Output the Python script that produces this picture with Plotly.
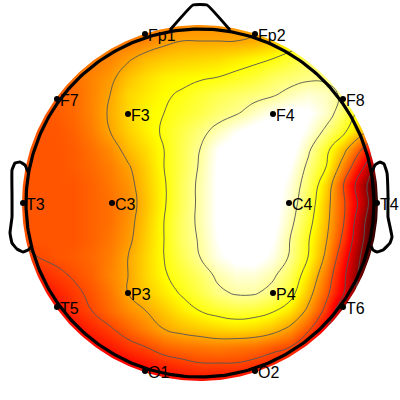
import numpy as np
import plotly.graph_objects as go

# Sample positions of the scalp map (chart units, y grows downward)
grid_x = [20, 38, 56, 74, 92, 110, 128, 146, 164, 182, 200, 218, 236, 254, 272, 290, 308, 326, 344, 362, 380]
grid_y = [23, 41, 59, 77, 95, 113, 131, 149, 167, 185, 203, 221, 239, 257, 275, 293, 311, 329, 347, 365, 383]

row_023 = [50, 50, 50, 51, 52, 53, 54, 55, 56, 57, 58, 58, 59, 60, 64, 68, 72, 76, 80, 80, 80]
row_041 = [50, 50, 51, 52, 53, 54, 55, 57, 60, 62, 62, 62, 62, 63, 66, 70, 74, 78, 80, 80, 80]
row_059 = [50, 50, 51, 53, 55, 57, 61, 65, 67, 68, 69, 70, 72, 74, 76, 80, 84, 86, 86, 86, 86]
row_077 = [50, 50, 52, 54, 57, 60, 66, 70, 73, 74, 75, 76, 78, 80, 84, 86, 88, 88, 86, 84, 82]
row_095 = [50, 50, 51, 53, 57, 62, 69, 72, 75, 77, 80, 83, 85, 87, 89, 93, 96, 94, 88, 84, 80]
row_113 = [50, 50, 51, 53, 57, 63, 69, 74, 76, 79, 82, 86, 89, 94, 99, 102, 101, 95, 84, 72, 62]
row_131 = [50, 50, 50, 52, 56, 62, 68, 73, 77, 82, 87, 93, 99, 103, 105, 105, 98, 88, 78, 66, 52]
row_149 = [50, 50, 50, 51, 54, 58, 65, 70, 76, 83, 90, 100, 104, 106, 106, 104, 92, 79, 65, 48, 30]
row_167 = [50, 50, 50, 51, 53, 56, 61, 68, 76, 83, 91, 101, 105, 106, 106, 100, 88, 76, 56, 36, 14]
row_185 = [50, 50, 50, 50, 52, 55, 59, 67, 75, 84, 92, 101, 105, 106, 105, 97, 85, 69, 47, 26, 5]
row_203 = [50, 50, 50, 50, 52, 54, 58, 66, 75, 84, 92, 101, 105, 106, 104, 95, 83, 66, 49, 29, 4]
row_221 = [50, 50, 50, 50, 52, 54, 59, 67, 76, 85, 92, 101, 105, 106, 103, 93, 80, 65, 48, 24, 2]
row_239 = [49, 50, 50, 50, 52, 55, 60, 68, 76, 85, 91, 100, 104, 105, 101, 90, 77, 63, 45, 22, 0]
row_257 = [44, 48, 50, 51, 53, 56, 62, 69, 76, 83, 90, 98, 102, 103, 98, 89, 76, 60, 40, 18, 0]
row_275 = [40, 43, 46, 49, 52, 57, 62, 69, 75, 80, 85, 92, 96, 96, 92, 84, 71, 55, 36, 15, 0]
row_293 = [36, 39, 42, 46, 50, 55, 62, 67, 72, 77, 82, 88, 91, 91, 87, 80, 66, 51, 34, 12, 0]
row_311 = [34, 36, 39, 44, 48, 53, 58, 62, 67, 72, 76, 79, 81, 80, 77, 71, 60, 45, 22, 10, 5]
row_329 = [32, 34, 36, 39, 43, 47, 52, 57, 62, 65, 67, 69, 70, 69, 66, 60, 50, 35, 18, 10, 5]
row_347 = [32, 32, 34, 36, 38, 41, 45, 48, 52, 54, 55, 56, 55, 54, 51, 48, 38, 28, 18, 10, 5]
row_365 = [30, 30, 31, 32, 33, 35, 37, 40, 43, 45, 47, 47, 47, 45, 42, 38, 32, 26, 18, 10, 5]
row_383 = [30, 30, 31, 32, 33, 34, 35, 36, 37, 38, 38, 38, 37, 36, 34, 32, 28, 24, 18, 10, 5]
potential = [row_023, row_041, row_059, row_077, row_095, row_113, row_131, row_149, row_167, row_185,
             row_203, row_221, row_239, row_257, row_275, row_293, row_311, row_329, row_347, row_365, row_383]

# Electrodes
electrode_labels = ["Fp1", "Fp2", "F7", "F3", "F4", "F8", "T3", "C3", "C4", "T4", "T5", "P3", "P4", "T6", "O1", "O2"]
electrode_x = [145, 255, 57, 128, 273, 343, 23, 112, 289, 377, 57, 128, 273, 343, 145, 255]
electrode_y = [34, 34, 99, 114, 114, 99, 203, 203, 203, 203, 307, 293, 293, 307, 371, 371]

# Head outline
nose_x = [170, 193, 207, 230]
nose_y = [30, 5, 5, 30]
left_ear_x = [28, 25, 20, 15, 12, 12, 12, 10, 12, 17, 23, 28, 32]
left_ear_y = [172, 165, 162, 163, 170, 193, 217, 233, 243, 249, 252, 250, 246]
right_ear_x = [372, 375, 380, 384, 387, 388, 388, 392, 390, 383, 377, 373, 371]
right_ear_y = [172, 165, 162, 164, 173, 195, 217, 237, 243, 250, 252, 250, 246]

HEAD_CX, HEAD_CY = 200, 203
HEAD_R = 174
MAP_R = 178
contour_start, contour_end, contour_step = 20, 90, 14

hot = [[0, "#000000"], [0.375, "#ff0000"], [0.75, "#ffff00"], [1, "#ffffff"]]

fig = go.Figure()
fig.add_trace(go.Heatmap(x=grid_x, y=grid_y, z=potential, zmin=0, zmax=100, zsmooth="best",
                         colorscale=hot, showscale=False, hoverinfo="skip"))
fig.add_trace(go.Contour(x=grid_x, y=grid_y, z=potential, showscale=False, hoverinfo="skip",
                         contours=dict(coloring="lines", start=contour_start, end=contour_end, size=contour_step),
                         colorscale=[[0, "#555555"], [1, "#555555"]],
                         line=dict(color="#555555", width=0.9, smoothing=1.3)))

# white keyhole mask around the map
ang = np.linspace(0, 2 * np.pi, 361)
mask_x = [400, 400, 0, 0, 400, 400] + list(HEAD_CX + MAP_R * np.cos(ang)) + [400]
mask_y = [HEAD_CY, 0, 0, 400, 400, HEAD_CY] + list(HEAD_CY + MAP_R * np.sin(ang)) + [HEAD_CY]
fig.add_trace(go.Scatter(x=mask_x, y=mask_y, mode="lines", fill="toself", fillcolor="white",
                         line=dict(width=0, color="white"), hoverinfo="skip", showlegend=False))

head_style = dict(color="black", width=3.2)
fig.add_trace(go.Scatter(x=list(HEAD_CX + HEAD_R * np.cos(ang)), y=list(HEAD_CY + HEAD_R * np.sin(ang)),
                         mode="lines", line=head_style, hoverinfo="skip", showlegend=False))
for xs, ys in [(nose_x, nose_y), (left_ear_x, left_ear_y), (right_ear_x, right_ear_y)]:
    fig.add_trace(go.Scatter(x=xs, y=ys, mode="lines", line=dict(color="black", width=3, shape="spline", smoothing=0.3),
                             hoverinfo="skip", showlegend=False))

fig.add_trace(go.Scatter(x=electrode_x, y=electrode_y, mode="markers", marker=dict(color="black", size=6),
                         cliponaxis=False, hoverinfo="skip", showlegend=False))
for label, ex, ey in zip(electrode_labels, electrode_x, electrode_y):
    fig.add_annotation(x=ex, y=ey, text=label, showarrow=False, xanchor="left", yanchor="middle",
                       xshift=2, yshift=-1, borderpad=0,
                       font=dict(family="Liberation Sans, Arial, sans-serif", size=16, color="black"))

fig.update_xaxes(range=[0, 400], visible=False)
fig.update_yaxes(range=[400, 0], visible=False)
fig.update_layout(width=400, height=400, margin=dict(l=0, r=0, t=0, b=0),
                  paper_bgcolor="white", plot_bgcolor="white", showlegend=False)
fig.write_html("out.html", config=dict(displayModeBar=False),
               post_script="document.body.style.margin='0';document.body.style.overflow='hidden';")
